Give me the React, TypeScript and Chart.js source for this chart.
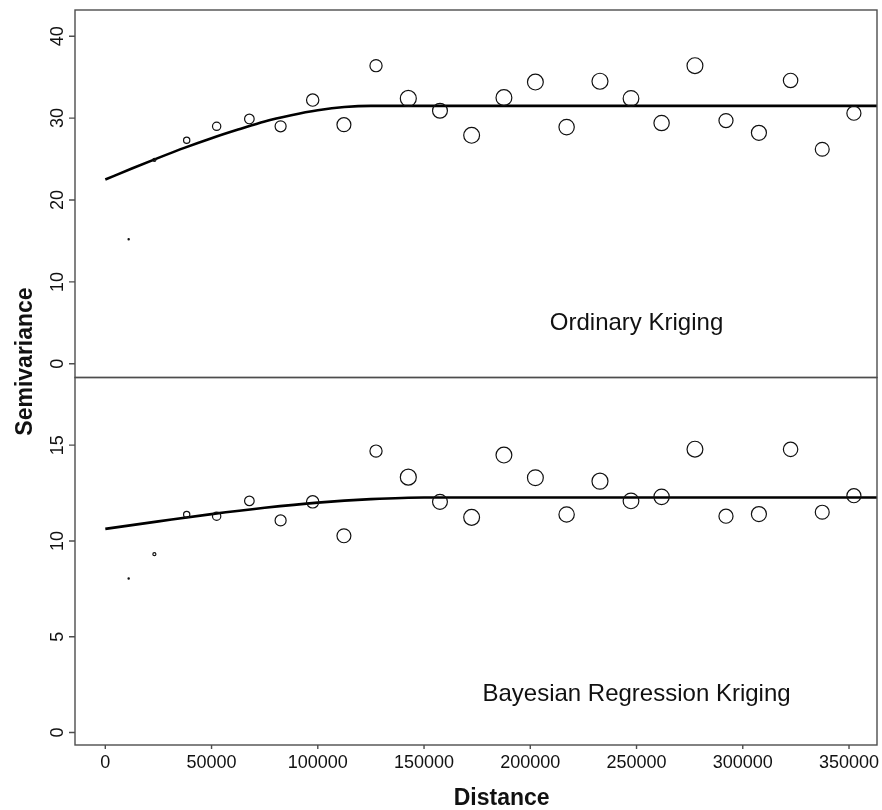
import React, { useEffect, useRef } from "react";
import { Chart, registerables } from "chart.js";

Chart.register(...registerables);

// ---- data ----
const lagDistance = [
  11000, 23100, 38300, 52400, 67800, 82500, 97600, 112300, 127400, 142600, 157500, 172400,
  187600, 202400, 217100, 232800, 247400, 261800, 277500, 292100, 307600, 322500, 337400, 352300,
];
const okSemivariance = [
  15.2, 24.9, 27.3, 29.0, 29.9, 29.0, 32.2, 29.2, 36.4, 32.4, 30.9, 27.9,
  32.5, 34.4, 28.9, 34.5, 32.4, 29.4, 36.4, 29.7, 28.2, 34.6, 26.2, 30.6,
];
const brkSemivariance = [
  8.04, 9.31, 11.38, 11.29, 12.09, 11.07, 12.04, 10.27, 14.69, 13.33, 12.04, 11.23,
  14.48, 13.3, 11.38, 13.12, 12.09, 12.3, 14.79, 11.29, 11.4, 14.78, 11.5, 12.36,
];
// relative number of pairs per lag (drives symbol size)
const pairWeight = [
  0.08, 0.19, 0.39, 0.52, 0.6, 0.69, 0.77, 0.87, 0.76, 1.0, 0.93, 0.99,
  0.99, 0.99, 0.96, 1.0, 0.98, 0.96, 0.99, 0.88, 0.94, 0.9, 0.87, 0.88,
];
// fitted model curves
const okModelX = [0, 12500, 25000, 37500, 50000, 62500, 75000, 87500, 100000, 112500, 125000, 363170];
const okModelY = [22.5, 23.85, 25.15, 26.4, 27.55, 28.6, 29.6, 30.35, 30.95, 31.35, 31.5, 31.5];
const brkModelX = [0, 25000, 50000, 75000, 100000, 125000, 150000, 363170];
const brkModelY = [10.63, 11.02, 11.4, 11.73, 12.0, 12.18, 12.27, 12.27];

const xTicks = [0, 50000, 100000, 150000, 200000, 250000, 300000, 350000];
const okTicks = [0, 10, 20, 30, 40];
const brkTicks = [0, 5, 10, 15];
const panelLabels = ["Ordinary Kriging", "Bayesian Regression Kriging"];
const xTitle = "Distance";
const yTitle = "Semivariance";

// axis limits
const X_MIN = -14260;
const X_MAX = 363170;
const OK_MIN = -1.67;
const OK_MAX = 43.2;
const BRK_MIN = -0.65;
const BRK_MAX = 18.53;

const FONT = '"Liberation Sans", Arial, Helvetica, sans-serif';
const INK = "#111111";
const MAX_R = 8.0;

const pts = (xs: number[], ys: number[]) => xs.map((x, i) => ({ x, y: ys[i] }));

const framePlugin = {
  id: "panelFrame",
  afterDraw(chart: any) {
    const { ctx, chartArea } = chart;
    const { left, right } = chartArea;
    const xs = chart.scales.x;
    const yT = chart.scales.yTop;
    const yB = chart.scales.yBot;
    ctx.save();
    ctx.strokeStyle = "#4d4d4d";
    ctx.lineWidth = 1.4;
    for (const s of [yT, yB]) ctx.strokeRect(left, s.top, right - left, s.bottom - s.top);
    ctx.beginPath();
    for (const v of xTicks) {
      const px = xs.getPixelForValue(v);
      ctx.moveTo(px, yB.bottom);
      ctx.lineTo(px, yB.bottom + 4);
    }
    const yGroups: [any, number[]][] = [
      [yT, okTicks],
      [yB, brkTicks],
    ];
    for (const [s, ticks] of yGroups) {
      for (const v of ticks) {
        const py = s.getPixelForValue(v);
        ctx.moveTo(left - 6, py);
        ctx.lineTo(left, py);
      }
    }
    ctx.stroke();

    ctx.fillStyle = INK;
    ctx.font = `18px ${FONT}`;
    ctx.textAlign = "center";
    ctx.textBaseline = "alphabetic";
    for (const v of xTicks) ctx.fillText(String(v), xs.getPixelForValue(v), yB.bottom + 22.7);
    for (const [s, ticks] of yGroups) {
      for (const v of ticks) {
        ctx.save();
        ctx.translate(left - 12, s.getPixelForValue(v));
        ctx.rotate(-Math.PI / 2);
        ctx.fillText(String(v), 0, 0);
        ctx.restore();
      }
    }

    ctx.font = `24px ${FONT}`;
    ctx.fillText(panelLabels[0], xs.getPixelForValue(250000), yT.getPixelForValue(4.13));
    ctx.fillText(panelLabels[1], xs.getPixelForValue(250000), yB.getPixelForValue(1.65));

    ctx.font = `bold 23px ${FONT}`;
    ctx.fillText(xTitle, 501.7, 805);
    ctx.save();
    ctx.translate(31.5, 361.5);
    ctx.rotate(-Math.PI / 2);
    ctx.fillText(yTitle, 0, 0);
    ctx.restore();
    ctx.restore();
  },
};

const pointStyle = {
  showLine: false,
  pointRadius: pairWeight.map((w) => Math.max(0.6, w * MAX_R)),
  pointBorderWidth: 1.2,
  pointBackgroundColor: "rgba(0,0,0,0)",
  pointBorderColor: INK,
  pointHoverRadius: 0,
};
const lineStyle = {
  showLine: true,
  pointRadius: 0,
  borderColor: "#000000",
  borderWidth: 2.6,
  cubicInterpolationMode: "monotone" as const,
  fill: false,
};

export default function App() {
  const ref = useRef<HTMLCanvasElement>(null);
  useEffect(() => {
    const chart = new Chart(ref.current as HTMLCanvasElement, {
      type: "scatter",
      data: {
        datasets: [
          { ...pointStyle, label: "OK", data: pts(lagDistance, okSemivariance), yAxisID: "yTop" },
          { ...lineStyle, label: "OK model", data: pts(okModelX, okModelY), yAxisID: "yTop" },
          { ...pointStyle, label: "BRK", data: pts(lagDistance, brkSemivariance), yAxisID: "yBot" },
          { ...lineStyle, label: "BRK model", data: pts(brkModelX, brkModelY), yAxisID: "yBot" },
        ] as any,
      },
      options: {
        responsive: false,
        animation: false,
        layout: { autoPadding: false, padding: { left: 0, right: 5, top: 10, bottom: 0 } },
        plugins: { legend: { display: false }, tooltip: { enabled: false } },
        events: [],
        scales: {
          x: {
            type: "linear",
            min: X_MIN,
            max: X_MAX,
            ticks: { display: false },
            grid: { display: false },
            border: { display: false },
            afterFit: (s: any) => {
              s.height = 65;
            },
          },
          yBot: {
            type: "linear",
            position: "left",
            stack: "panels",
            stackWeight: 1,
            min: BRK_MIN,
            max: BRK_MAX,
            ticks: { display: false },
            grid: { display: false },
            border: { display: false },
            afterFit: (s: any) => {
              s.width = 75;
            },
          },
          yTop: {
            type: "linear",
            position: "left",
            stack: "panels",
            stackWeight: 1,
            min: OK_MIN,
            max: OK_MAX,
            ticks: { display: false },
            grid: { display: false },
            border: { display: false },
            afterFit: (s: any) => {
              s.width = 75;
            },
          },
        } as any,
      },
      plugins: [framePlugin],
    });
    return () => chart.destroy();
  }, []);
  return (
    <div style={{ position: "absolute", left: 0, top: 0, width: 882, height: 810, background: "#fff" }}>
      <canvas ref={ref} width={882} height={810} style={{ display: "block" }} />
    </div>
  );
}
